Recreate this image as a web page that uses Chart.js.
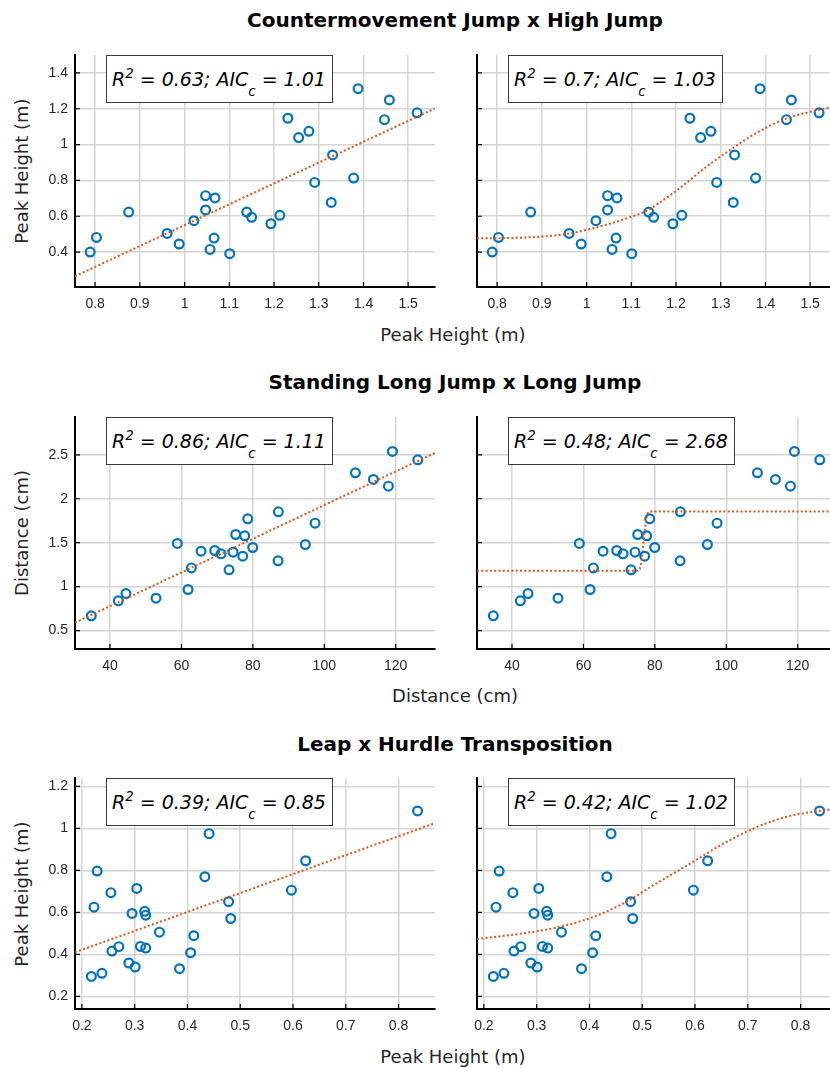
<!DOCTYPE html>
<html>
<head>
<meta charset="utf-8">
<script src="https://cdn.jsdelivr.net/npm/chart.js@4.4.1/dist/chart.umd.min.js"></script>
<style>
html,body{margin:0;padding:0;overflow:hidden;background:#fff;width:830px;height:1068px;}
#page{position:relative;width:860px;height:1068px;font-family:"DejaVu Sans",Verdana,sans-serif;color:#000;}
canvas{position:absolute;}
.ttl{position:absolute;left:0;width:910px;text-align:center;font-weight:bold;font-size:20px;line-height:24px;transform:translateY(-50%);white-space:nowrap;}
.xl{position:absolute;font-size:18px;line-height:22px;transform:translate(-50%,-50%);white-space:nowrap;color:#262626;}
.yl{position:absolute;font-size:18px;line-height:22px;transform:translate(-50%,-50%) rotate(-90deg);white-space:nowrap;color:#262626;}
.ann{position:absolute;height:48px;box-sizing:border-box;border:1px solid #3a3a3a;background:#fff;padding:0 6px 0 5px;font-style:italic;font-size:19px;line-height:46px;white-space:nowrap;}
.ann sup{font-size:70%;line-height:0;vertical-align:8px;}
.ann sub{font-size:70%;line-height:0;vertical-align:-10px;}
</style>
</head>
<body>
<div id="page">
  <div class="ttl" style="top:20px">Countermovement Jump x High Jump</div>
  <div class="ttl" style="top:382px">Standing Long Jump x Long Jump</div>
  <div class="ttl" style="top:744px">Leap x Hurdle Transposition</div>

  <div class="yl" style="left:22px;top:171px">Peak Height (m)</div>
  <div class="yl" style="left:22px;top:533px">Distance (cm)</div>
  <div class="yl" style="left:22px;top:894px">Peak Height (m)</div>

  <div class="xl" style="left:453px;top:335px">Peak Height (m)</div>
  <div class="xl" style="left:455px;top:696px">Distance (cm)</div>
  <div class="xl" style="left:453px;top:1057px">Peak Height (m)</div>
</div>
<script>
// ---------- data ----------
// Row 1: Countermovement Jump (x) vs High Jump (y)
const cmjPeak = [0.789,0.803,0.875,0.961,0.988,1.021,1.047,1.068,1.047,1.057,1.066,1.101,1.139,1.150,1.193,1.213,1.231,1.255,1.278,1.291,1.328,1.331,1.378,1.388,1.447,1.458,1.520];
const hjPeak  = [0.400,0.482,0.623,0.504,0.445,0.575,0.715,0.702,0.635,0.415,0.478,0.391,0.623,0.594,0.558,0.605,1.147,1.039,1.074,0.789,0.677,0.942,0.813,1.312,1.139,1.249,1.177];
const cmjLinX = [0.755,1.56];
const cmjLinY = [0.265,1.202];
const cmjSigX = [0.755,0.85,0.96,1.04,1.10,1.134,1.16,1.21,1.27,1.324,1.376,1.443,1.518,1.56];
const cmjSigY = [0.477,0.480,0.503,0.550,0.597,0.630,0.670,0.760,0.880,0.975,1.059,1.142,1.193,1.215];
const row1Stats = ["0.63","1.01","0.7","1.03"];

// Row 2: Standing Long Jump (x) vs Long Jump (y)
const sljDist = [34.77,42.33,44.48,52.88,58.86,61.85,62.78,65.49,69.32,71.09,73.33,74.45,75.20,77.16,77.72,78.56,79.96,87.06,87.15,94.71,97.42,108.72,113.76,117.96,119.08,126.18];
const ljDist  = [0.667,0.838,0.921,0.868,1.491,0.967,1.213,1.403,1.411,1.373,1.191,1.392,1.593,1.346,1.578,1.771,1.445,1.293,1.851,1.479,1.722,2.295,2.219,2.143,2.538,2.443];
const sljLinX = [30.2,131.0];
const sljLinY = [0.590,2.521];
const sljStepX = [30.2,75.3,75.8,76.3,76.8,77.3,77.8,78.3,131.0];
const sljStepY = [1.180,1.180,1.200,1.300,1.500,1.680,1.820,1.855,1.855];
const row2Stats = ["0.86","1.11","0.48","2.68"];

// Row 3: Leap (x) vs Hurdle Transposition (y)
const leapPeak   = [0.218,0.238,0.223,0.229,0.255,0.257,0.270,0.289,0.301,0.295,0.304,0.311,0.321,0.319,0.321,0.347,0.385,0.406,0.412,0.433,0.441,0.478,0.482,0.597,0.624,0.836];
const hurdlePeak = [0.295,0.310,0.625,0.797,0.694,0.416,0.437,0.359,0.340,0.595,0.714,0.438,0.430,0.605,0.587,0.506,0.332,0.408,0.489,0.770,0.975,0.651,0.571,0.706,0.846,1.083];
const leapLinX = [0.187,0.869];
const leapLinY = [0.410,1.025];
const leapSigX = [0.187,0.271,0.334,0.397,0.460,0.523,0.587,0.650,0.713,0.776,0.869];
const leapSigY = [0.473,0.499,0.526,0.569,0.637,0.732,0.827,0.922,1.002,1.057,1.095];
const row3Stats = ["0.39","0.85","0.42","1.02"];

// ---------- ticks ----------
const row1XTicks = [0.8,0.9,1.0,1.1,1.2,1.3,1.4,1.5];
const row1XLabels = ["0.8","0.9","1","1.1","1.2","1.3","1.4","1.5"];
const row1YTicks = [0.4,0.6,0.8,1.0,1.2,1.4];
const row1YLabels = ["0.4","0.6","0.8","1","1.2","1.4"];
const row2XTicks = [40,60,80,100,120];
const row2XLabels = ["40","60","80","100","120"];
const row2YTicks = [0.5,1.0,1.5,2.0,2.5];
const row2YLabels = ["0.5","1","1.5","2","2.5"];
const row3XTicks = [0.2,0.3,0.4,0.5,0.6,0.7,0.8];
const row3XLabels = ["0.2","0.3","0.4","0.5","0.6","0.7","0.8"];
const row3YTicks = [0.2,0.4,0.6,0.8,1.0,1.2];
const row3YLabels = ["0.2","0.4","0.6","0.8","1","1.2"];

// ---------- drawing ----------
const BLUE = '#0072BD', ORANGE = '#D95319';
const page = document.getElementById('page');

const inwardTicks = {
  id: 'inwardTicks',
  afterDraw(chart) {
    const {ctx, chartArea: a, scales: {x, y}} = chart;
    ctx.save();
    ctx.strokeStyle = '#000';
    ctx.lineWidth = 1.2;
    ctx.beginPath();
    y.ticks.forEach(t => { const p = y.getPixelForValue(t.value); ctx.moveTo(a.left, p); ctx.lineTo(a.left + 5, p); });
    x.ticks.forEach(t => { const p = x.getPixelForValue(t.value); ctx.moveTo(p, a.bottom); ctx.lineTo(p, a.bottom - 5); });
    ctx.stroke();
    ctx.restore();
  }
};

function pts(xs, ys) { return xs.map((v, i) => ({x: v, y: ys[i]})); }

function panel(o) {
  const padL = o.left ? 75 : 20, padT = 10, padR = 10, padB = 40;
  const plotW = 360;
  const cv = document.createElement('canvas');
  const W = plotW + padL + padR, H = o.plotH + padT + padB;
  cv.width = W; cv.height = H;
  cv.style.left = (o.plotLeft - padL) + 'px';
  cv.style.top = (o.plotTop - padT) + 'px';
  cv.style.width = W + 'px'; cv.style.height = H + 'px';
  page.appendChild(cv);

  const gridCol = '#d4d4d4';
  new Chart(cv, {
    type: 'scatter',
    data: {
      datasets: [
        {type: 'line', data: pts(o.fx, o.fy), borderColor: ORANGE, borderWidth: 2, borderDash: [2, 2.3],
         pointRadius: 0, fill: false, tension: 0, cubicInterpolationMode: o.smooth ? 'monotone' : 'default'},
        {type: 'scatter', data: pts(o.xs, o.ys), pointRadius: 4.4, borderWidth: 2.2, borderColor: BLUE,
         backgroundColor: 'rgba(0,0,0,0)', pointStyle: 'circle', clip: false}
      ]
    },
    options: {
      responsive: false, animation: false, devicePixelRatio: 1,
      layout: {padding: {top: padT, right: padR, left: 0, bottom: 0}},
      plugins: {legend: {display: false}, tooltip: {enabled: false}},
      scales: {
        x: {
          type: 'linear', min: o.xr[0], max: o.xr[1],
          afterBuildTicks: s => { s.ticks = o.xt.map(v => ({value: v})); },
          afterFit: s => { s.height = padB; s.paddingLeft = 0; s.paddingRight = 0; },
          ticks: {callback: (v, i) => o.xtl[i], color: '#262626', padding: 9, maxRotation: 0, autoSkip: false,
                  font: {family: '"Liberation Sans", Arial, sans-serif', size: 14}},
          grid: {color: gridCol, lineWidth: 1.5, drawTicks: false},
          border: {display: true, color: '#000', width: 2}
        },
        y: {
          type: 'linear', min: o.yr[0], max: o.yr[1],
          afterBuildTicks: s => { s.ticks = o.yt.map(v => ({value: v})); },
          afterFit: s => { s.width = padL; s.paddingTop = 0; s.paddingBottom = 0; },
          ticks: {display: o.left, callback: (v, i) => o.ytl[i], color: '#262626', padding: 7, autoSkip: false,
                  font: {family: '"Liberation Sans", Arial, sans-serif', size: 14}},
          grid: {color: gridCol, lineWidth: 1.5, drawTicks: false},
          border: {display: true, color: '#000', width: 2}
        }
      }
    },
    plugins: [inwardTicks]
  });

  const ann = document.createElement('div');
  ann.className = 'ann';
  ann.style.left = (o.plotLeft + 31) + 'px';
  ann.style.top = o.plotTop + 'px';
  ann.innerHTML = 'R<sup>2</sup> = ' + o.stat[0] + '; AIC<sub>c</sub> = ' + o.stat[1];
  page.appendChild(ann);
}

const rows = [
  {top: 55, h: 232, xr: [0.755, 1.56], yr: [0.205, 1.5], xt: row1XTicks, xtl: row1XLabels, yt: row1YTicks, ytl: row1YLabels,
   xs: cmjPeak, ys: hjPeak, fits: [[cmjLinX, cmjLinY, false], [cmjSigX, cmjSigY, true]], stats: row1Stats},
  {top: 417, h: 232, xr: [30.2, 131.0], yr: [0.29, 2.93], xt: row2XTicks, xtl: row2XLabels, yt: row2YTicks, ytl: row2YLabels,
   xs: sljDist, ys: ljDist, fits: [[sljLinX, sljLinY, false], [sljStepX, sljStepY, false]], stats: row2Stats},
  {top: 778, h: 231, xr: [0.187, 0.869], yr: [0.14, 1.24], xt: row3XTicks, xtl: row3XLabels, yt: row3YTicks, ytl: row3YLabels,
   xs: leapPeak, ys: hurdlePeak, fits: [[leapLinX, leapLinY, false], [leapSigX, leapSigY, true]], stats: row3Stats}
];

rows.forEach(r => {
  [0, 1].forEach(c => {
    panel({
      left: c === 0, plotLeft: c === 0 ? 75 : 477, plotTop: r.top, plotH: r.h,
      xr: r.xr, yr: r.yr, xt: r.xt, xtl: r.xtl, yt: r.yt, ytl: r.ytl,
      xs: r.xs, ys: r.ys, fx: r.fits[c][0], fy: r.fits[c][1], smooth: r.fits[c][2],
      stat: [r.stats[c * 2], r.stats[c * 2 + 1]]
    });
  });
});
</script>
</body>
</html>
